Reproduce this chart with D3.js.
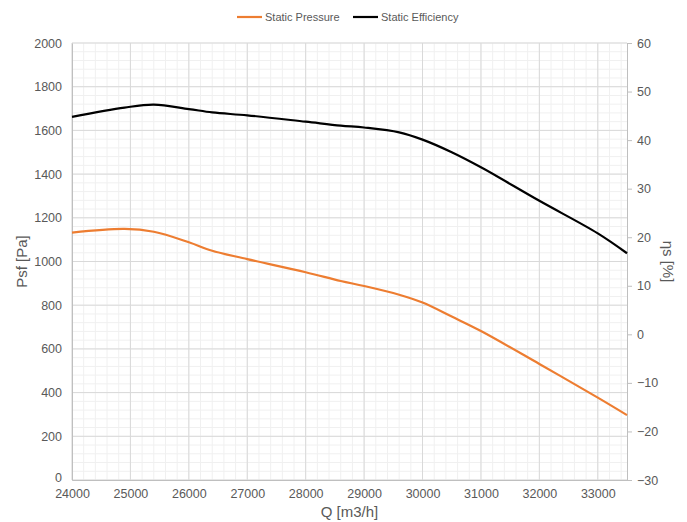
<!DOCTYPE html>
<html>
<head>
<meta charset="utf-8">
<script src="https://cdn.jsdelivr.net/npm/d3@7"></script>
<style>
  body { margin: 0; background: #fff; }
  text { font-family: "Liberation Sans", Arial, sans-serif; }
</style>
</head>
<body>
<div id="chart"></div>
<script>
// data
const flow = [24000, 24900, 25400, 26000, 26400, 27000, 28000, 28600, 29000, 29600, 30000, 30500, 31000, 32000, 33000, 33500];
const pressure = [1132, 1149, 1136, 1088, 1049, 1011, 951, 911, 888, 848, 812, 748, 682, 531, 377, 297];
const efficiency = [44.8, 46.7, 47.3, 46.4, 45.7, 45.1, 43.8, 43.0, 42.6, 41.6, 40.1, 37.5, 34.4, 27.5, 20.8, 16.7];

const xTicks = d3.range(24000, 33001, 1000);
const yTicks = d3.range(0, 2001, 200);
const y2Ticks = d3.range(-30, 61, 10);

const W = 687, H = 522;
const margin = { top: 43, right: 60, bottom: 42, left: 72 };
const width = W - margin.left - margin.right,
    height = H - margin.top - margin.bottom;

const svg = d3.select("#chart").append("svg")
    .attr("width", W).attr("height", H);
const g = svg.append("g")
    .attr("transform", `translate(${margin.left},${margin.top})`);

const x = d3.scaleLinear().domain([24000, 33500]).range([0, width]);
const y = d3.scaleLinear().domain([0, 2000]).range([height, 0]);
const y2 = d3.scaleLinear().domain([-30, 60]).range([height, 0]);

// minor grid
g.append("g").selectAll("line")
  .data(d3.range(24000, 33501, 200))
  .join("line")
    .attr("x1", d => x(d)).attr("x2", d => x(d))
    .attr("y1", 0).attr("y2", height)
    .attr("stroke", "#f0f0f0");
g.append("g").selectAll("line")
  .data(d3.range(0, 2001, 40))
  .join("line")
    .attr("x1", 0).attr("x2", width)
    .attr("y1", d => y(d)).attr("y2", d => y(d))
    .attr("stroke", "#f0f0f0");

// major grid
g.append("g").selectAll("line")
  .data(xTicks)
  .join("line")
    .attr("x1", d => x(d)).attr("x2", d => x(d))
    .attr("y1", 0).attr("y2", height)
    .attr("stroke", "#d9d9d9");
g.append("g").selectAll("line")
  .data(yTicks)
  .join("line")
    .attr("x1", 0).attr("x2", width)
    .attr("y1", d => y(d)).attr("y2", d => y(d))
    .attr("stroke", "#d9d9d9");

// axes
const xAxis = g.append("g")
    .attr("transform", `translate(0,${height})`)
    .call(d3.axisBottom(x).tickValues(xTicks).tickSize(0).tickPadding(9).tickFormat(d3.format("d")));
const yAxis = g.append("g")
    .call(d3.axisLeft(y).tickValues(yTicks).tickSize(0).tickPadding(10).tickFormat(d3.format("d")));
const y2Axis = g.append("g")
    .attr("transform", `translate(${width},0)`)
    .call(d3.axisRight(y2).tickValues(y2Ticks).tickSize(5).tickPadding(5));

[xAxis, yAxis, y2Axis].forEach(a => {
  a.select(".domain").attr("stroke", "#bfbfbf");
  a.selectAll(".tick line").attr("stroke", "#bfbfbf");
  a.selectAll(".tick text").attr("fill", "#595959").style("font-size", "12.5px");
});
// lift the bottom-left "0" a touch so it clears 24000
yAxis.selectAll(".tick text").filter(d => d === 0).attr("dy", "0.15em");

// lines
const curve = d3.curveCatmullRom.alpha(0.5);
const pLine = d3.line().x((d, i) => x(flow[i])).y(d => y(d)).curve(curve);
const eLine = d3.line().x((d, i) => x(flow[i])).y(d => y2(d)).curve(curve);

g.append("path")
    .datum(pressure)
    .attr("d", pLine)
    .attr("fill", "none")
    .attr("stroke", "#ED7D31")
    .attr("stroke-width", 2.2);
g.append("path")
    .datum(efficiency)
    .attr("d", eLine)
    .attr("fill", "none")
    .attr("stroke", "#000")
    .attr("stroke-width", 2.2);

// axis titles
svg.append("text")
    .attr("x", margin.left + width / 2).attr("y", 517)
    .attr("text-anchor", "middle")
    .attr("fill", "#595959").style("font-size", "15px")
    .text("Q [m3/h]");
svg.append("text")
    .attr("transform", `translate(27,${margin.top + height / 2}) rotate(-90)`)
    .attr("text-anchor", "middle")
    .attr("fill", "#595959").style("font-size", "15px")
    .text("Psf [Pa]");
svg.append("text")
    .attr("transform", `translate(663,${margin.top + height / 2}) rotate(90)`)
    .attr("text-anchor", "middle")
    .attr("fill", "#595959").style("font-size", "15px")
    .text("ηs [%]");

// legend
const legend = [
  { name: "Static Pressure", color: "#ED7D31", x: 237 },
  { name: "Static Efficiency", color: "#000", x: 353 }
];
const lg = svg.append("g").selectAll("g").data(legend).join("g")
    .attr("transform", d => `translate(${d.x},17)`);
lg.append("line").attr("x1", 0).attr("x2", 25)
    .attr("stroke", d => d.color).attr("stroke-width", 2.2);
lg.append("text").attr("x", 28).attr("y", 4)
    .attr("fill", "#595959").style("font-size", "11px")
    .text(d => d.name);
</script>
</body>
</html>
